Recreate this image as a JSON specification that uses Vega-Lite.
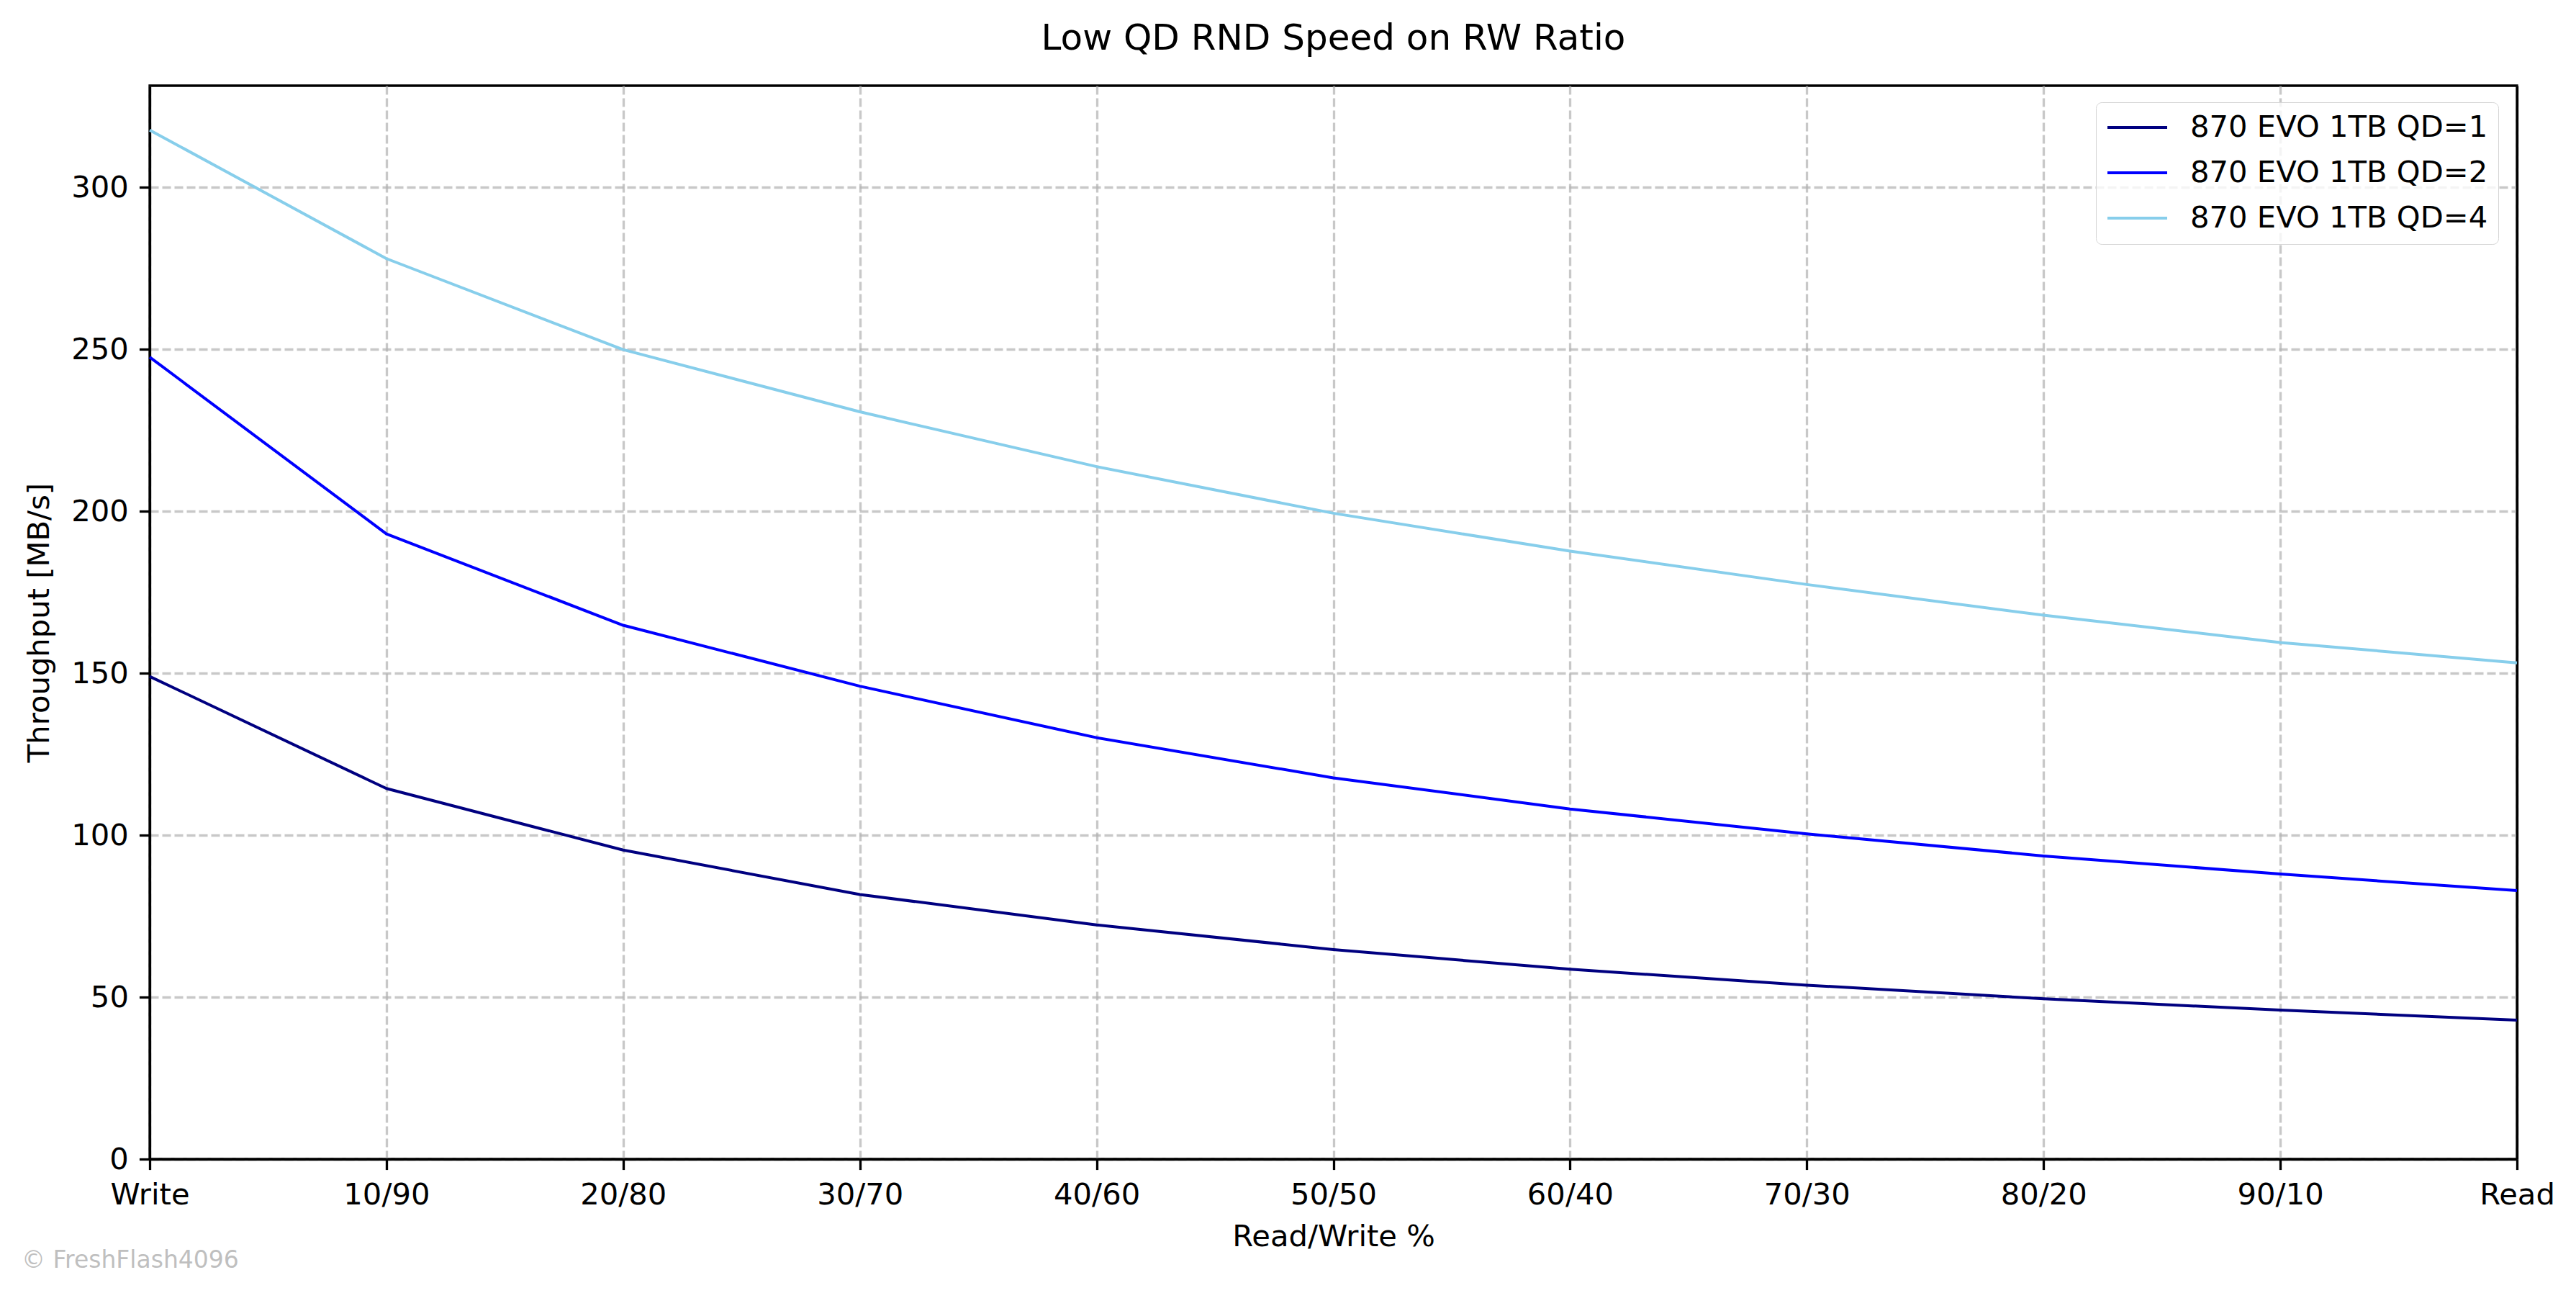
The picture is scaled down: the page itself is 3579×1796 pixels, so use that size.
{
  "$schema": "https://vega.github.io/schema/vega-lite/v6.json",
  "width": 3289,
  "height": 1491,
  "autosize": "none",
  "padding": {"left": 208, "top": 119, "right": 82, "bottom": 186},
  "background": "white",
  "title": {
    "text": "Low QD RND Speed on RW Ratio",
    "fontSize": 50, "fontWeight": "normal", "color": "black",
    "anchor": "middle", "offset": 40
  },
  "config": {
    "font": "DejaVu Sans",
    "view": {"stroke": "black", "strokeWidth": 3.3},
    "axis": {
      "domainColor": "black", "domainWidth": 3.3,
      "tickColor": "black", "tickWidth": 3.3, "tickSize": 14.6,
      "labelFontSize": 41.7, "labelColor": "black", "labelPadding": 15,
      "titleFontSize": 41.7, "titleFontWeight": "normal", "titleColor": "black",
      "gridColor": "#b0b0b0", "gridOpacity": 0.7, "gridWidth": 3.3, "gridDash": [12, 5]
    }
  },
  "datasets": {
    "speeds": [
      {"ratio": "Write", "series": "870 EVO 1TB QD=1", "mbps": 149.0},
      {"ratio": "10/90", "series": "870 EVO 1TB QD=1", "mbps": 114.4},
      {"ratio": "20/80", "series": "870 EVO 1TB QD=1", "mbps": 95.4},
      {"ratio": "30/70", "series": "870 EVO 1TB QD=1", "mbps": 81.7},
      {"ratio": "40/60", "series": "870 EVO 1TB QD=1", "mbps": 72.3},
      {"ratio": "50/50", "series": "870 EVO 1TB QD=1", "mbps": 64.7},
      {"ratio": "60/40", "series": "870 EVO 1TB QD=1", "mbps": 58.6},
      {"ratio": "70/30", "series": "870 EVO 1TB QD=1", "mbps": 53.7},
      {"ratio": "80/20", "series": "870 EVO 1TB QD=1", "mbps": 49.5},
      {"ratio": "90/10", "series": "870 EVO 1TB QD=1", "mbps": 46.0},
      {"ratio": "Read", "series": "870 EVO 1TB QD=1", "mbps": 42.9},
      {"ratio": "Write", "series": "870 EVO 1TB QD=2", "mbps": 247.6},
      {"ratio": "10/90", "series": "870 EVO 1TB QD=2", "mbps": 193.0},
      {"ratio": "20/80", "series": "870 EVO 1TB QD=2", "mbps": 164.8},
      {"ratio": "30/70", "series": "870 EVO 1TB QD=2", "mbps": 146.0},
      {"ratio": "40/60", "series": "870 EVO 1TB QD=2", "mbps": 130.1},
      {"ratio": "50/50", "series": "870 EVO 1TB QD=2", "mbps": 117.7},
      {"ratio": "60/40", "series": "870 EVO 1TB QD=2", "mbps": 108.1},
      {"ratio": "70/30", "series": "870 EVO 1TB QD=2", "mbps": 100.4},
      {"ratio": "80/20", "series": "870 EVO 1TB QD=2", "mbps": 93.6},
      {"ratio": "90/10", "series": "870 EVO 1TB QD=2", "mbps": 88.0},
      {"ratio": "Read", "series": "870 EVO 1TB QD=2", "mbps": 82.9},
      {"ratio": "Write", "series": "870 EVO 1TB QD=4", "mbps": 317.7},
      {"ratio": "10/90", "series": "870 EVO 1TB QD=4", "mbps": 278.0},
      {"ratio": "20/80", "series": "870 EVO 1TB QD=4", "mbps": 249.9},
      {"ratio": "30/70", "series": "870 EVO 1TB QD=4", "mbps": 230.7},
      {"ratio": "40/60", "series": "870 EVO 1TB QD=4", "mbps": 213.8},
      {"ratio": "50/50", "series": "870 EVO 1TB QD=4", "mbps": 199.4},
      {"ratio": "60/40", "series": "870 EVO 1TB QD=4", "mbps": 187.7},
      {"ratio": "70/30", "series": "870 EVO 1TB QD=4", "mbps": 177.4},
      {"ratio": "80/20", "series": "870 EVO 1TB QD=4", "mbps": 167.9},
      {"ratio": "90/10", "series": "870 EVO 1TB QD=4", "mbps": 159.5},
      {"ratio": "Read", "series": "870 EVO 1TB QD=4", "mbps": 153.2}
    ],
    "notes": [
      {"note": "© FreshFlash4096"}
    ]
  },
  "resolve": {"scale": {"y": "independent"}, "axis": {"y": "independent"}},
  "layer": [
    {
      "data": {"name": "speeds"},
      "mark": {"type": "line", "strokeWidth": 4, "strokeJoin": "round"},
      "encoding": {
        "x": {
          "field": "ratio", "type": "ordinal",
          "sort": ["Write", "10/90", "20/80", "30/70", "40/60", "50/50", "60/40", "70/30", "80/20", "90/10", "Read"],
          "scale": {"type": "point", "padding": 0},
          "axis": {"title": "Read/Write %", "labelAngle": 0, "labelFlush": false, "labelOverlap": false, "titlePadding": 16, "grid": true}
        },
        "y": {
          "field": "mbps", "type": "quantitative",
          "scale": {"domain": [0, 331.4], "nice": false},
          "axis": {"title": "Throughput [MB/s]", "values": [0, 50, 100, 150, 200, 250, 300], "titlePadding": 22, "grid": true}
        },
        "color": {
          "field": "series", "type": "nominal",
          "scale": {"domain": ["870 EVO 1TB QD=1", "870 EVO 1TB QD=2", "870 EVO 1TB QD=4"], "range": ["#000080", "#0000ff", "#87ceeb"]},
          "legend": {
            "title": null, "orient": "none", "legendX": 2704, "legendY": 23,
            "symbolType": "stroke", "symbolSize": 6889, "symbolStrokeWidth": 4,
            "labelFontSize": 41.7, "labelColor": "black", "labelOffset": 30, "labelLimit": 1000,
            "clipHeight": 42, "rowPadding": 20, "padding": 14,
            "fillColor": "rgba(255,255,255,0.8)", "strokeColor": "#d6d6d6", "cornerRadius": 8
          }
        }
      }
    },
    {
      "data": {"name": "notes"},
      "mark": {"type": "text", "align": "left", "baseline": "middle", "dx": -178, "dy": 141, "fontSize": 33, "color": "#bfbfbf"},
      "encoding": {
        "x": {"datum": "Write", "type": "ordinal"},
        "y": {
          "datum": 0, "type": "quantitative",
          "scale": {"domain": [0, 331.4], "nice": false},
          "axis": {"orient": "right", "title": null, "labels": false, "ticks": false, "grid": false, "domainColor": "black", "domainWidth": 3.3}
        },
        "text": {"field": "note"}
      }
    }
  ]
}
